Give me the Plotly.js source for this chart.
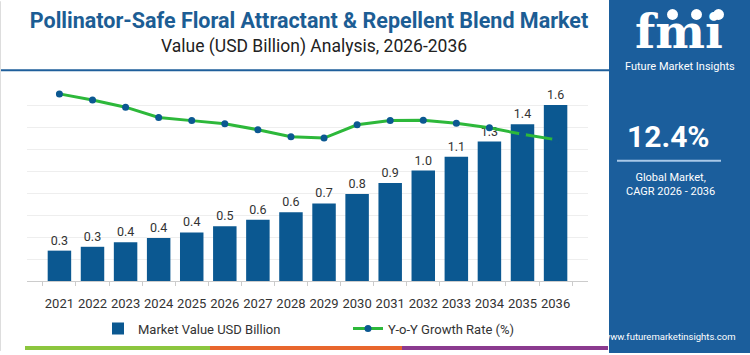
<!DOCTYPE html>
<html>
<head>
<meta charset="utf-8">
<script src="https://cdn.plot.ly/plotly-3.0.1.min.js"></script>
<style>html,body{margin:0;padding:0;background:#fff;}#chart{width:750px;height:355px;}</style>
</head>
<body>
<div id="chart"></div>
<script>
// ---- data ----
const years = ['2021','2022','2023','2024','2025','2026','2027','2028','2029','2030','2031','2032','2033','2034','2035','2036'];
const marketValue = [0.276,0.311,0.352,0.391,0.441,0.498,0.557,0.625,0.705,0.791,0.891,1.004,1.129,1.268,1.425,1.600];
const growthRate = [14.45,14.14,13.78,13.26,13.10,12.94,12.64,12.29,12.22,12.89,13.10,13.12,12.97,12.74,12.41,12.14];
const seriesNames = ['Market Value USD Billion','Y-o-Y Growth Rate (%)'];
const titleText = 'Pollinator-Safe Floral Attractant &amp; Repellent Blend Market';
const subtitleText = 'Value (USD Billion) Analysis, 2026-2036';
const cagrText = '12.4%';
const cagrLabel = 'Global Market,<br>CAGR 2026 - 2036';

// ---- layout helpers (pixel -> paper) ----
const L = 27, R = 162, T = 83, B = 71, W = 750, H = 355;
const PW = W - L - R, PH = H - T - B;
const px = p => (p - L) / PW;
const py = p => (H - B - p) / PH;

const FONT = 'Roboto, "Open Sans", sans-serif';
const PANEL = '#1b5e9c';

const traces = [
  {
    type: 'bar', x: years, y: marketValue, name: seriesNames[0],
    marker: {color: '#0b5891'},
    texttemplate: '%{y:.1f}', textposition: 'outside', cliponaxis: false,
    textfont: {size: 12.5, color: '#333', family: FONT},
    hoverinfo: 'x+y'
  },
  {
    type: 'scatter', mode: 'lines+markers', x: years, y: growthRate, name: seriesNames[1],
    yaxis: 'y2', line: {color: '#2db83a', width: 3}, marker: {color: '#0b5891', size: 7},
    cliponaxis: false
  }
];

const shapes = [
  // right panel
  {type: 'rect', xref: 'paper', yref: 'paper', x0: px(609), x1: px(752), y0: py(357), y1: py(-2), fillcolor: PANEL, line: {width: 0}, layer: 'below'},
  // title underline
  {type: 'line', xref: 'paper', yref: 'paper', x0: px(0), x1: px(609), y0: py(70), y1: py(70), line: {color: '#1f5f9b', width: 2}},
  // bottom stripe
  {type: 'line', xref: 'paper', yref: 'paper', x0: px(25), x1: px(210), y0: py(352), y1: py(352), line: {color: '#8cc63e', width: 4}},
  {type: 'line', xref: 'paper', yref: 'paper', x0: px(210), x1: px(402), y0: py(352), y1: py(352), line: {color: '#e8662d', width: 4}},
  {type: 'line', xref: 'paper', yref: 'paper', x0: px(402), x1: px(608), y0: py(352), y1: py(352), line: {color: '#8b3a8f', width: 4}},
  // panel separator line
  {type: 'line', xref: 'paper', yref: 'paper', x0: px(617), x1: px(721), y0: py(162), y1: py(162), line: {color: '#a8c8e8', width: 2}},
  // logo icons
  {type: 'circle', xref: 'paper', yref: 'paper', x0: px(667), x1: px(678), y0: py(19), y1: py(8), fillcolor: '#ffffff', line: {width: 0}},
  {type: 'circle', xref: 'paper', yref: 'paper', x0: px(691), x1: px(702), y0: py(19), y1: py(8), fillcolor: '#ffffff', line: {width: 0}},
  {type: 'circle', xref: 'paper', yref: 'paper', x0: px(713), x1: px(724), y0: py(19), y1: py(8), fillcolor: '#ffffff', line: {width: 0}},
  // left frame
  {type: 'line', xref: 'paper', yref: 'paper', x0: px(0.5), x1: px(0.5), y0: py(0), y1: py(355), line: {color: '#dddddd', width: 1}}
];

const ann = (text, x, y, size, opts={}) => Object.assign({
  text, xref: 'paper', yref: 'paper', x: px(x), y: py(y), xanchor: 'center', yanchor: 'middle',
  showarrow: false, font: {family: FONT, size, color: '#ffffff'}
}, opts);

const annotations = [
  ann(subtitleText, 314, 46, 17.5, {font: {family: FONT, size: 17.5, color: '#222'}}),
  ann('<b>fmi</b>', 679, 31, 47, {font: {family: '"DejaVu Serif", serif', size: 47, color: '#ffffff'}}),
  ann('Future Market Insights', 680, 66, 11),
  ann('<b>' + cagrText + '</b>', 668, 137, 30),
  ann(cagrLabel, 670, 186, 11),
  ann('www.futuremarketinsights.com', 669, 340, 9.5)
];

const layout = {
  width: W, height: H,
  margin: {l: L, r: R, t: T, b: B, pad: 0},
  paper_bgcolor: '#ffffff', plot_bgcolor: 'rgba(0,0,0,0)',
  title: {text: '<b>' + titleText + '</b>', x: 309 / W, xanchor: 'center', xref: 'container', y: 1 - 20 / H, yanchor: 'middle', yref: 'container',
    font: {family: FONT, size: 21.5, color: '#1c5d94'}},
  font: {family: FONT, color: '#333'},
  bargap: 0.29,
  xaxis: {type: 'category', tickson: 'boundaries', ticks: 'outside', ticklen: 4, tickcolor: '#cccccc',
    showline: true, linecolor: '#cccccc', linewidth: 1, showgrid: false, tickangle: 0,
    tickfont: {family: FONT, size: 13, color: '#333'}, ticklabelstandoff: 10},
  yaxis: {range: [0, 1.8], dtick: 0.2, showgrid: true, gridcolor: '#eeeeee', showticklabels: false, zeroline: false, ticks: ''},
  yaxis2: {overlaying: 'y', range: [5, 15], visible: false},
  showlegend: true,
  legend: {orientation: 'h', x: px(98), xanchor: 'left', y: py(317), yanchor: 'top',
    font: {family: FONT, size: 13, color: '#333'}, bgcolor: 'rgba(0,0,0,0)', traceorder: 'normal', entrywidth: 205, entrywidthmode: 'pixels'},
  shapes, annotations
};

Plotly.newPlot('chart', traces, layout, {displayModeBar: false, staticPlot: true});
</script>
</body>
</html>
